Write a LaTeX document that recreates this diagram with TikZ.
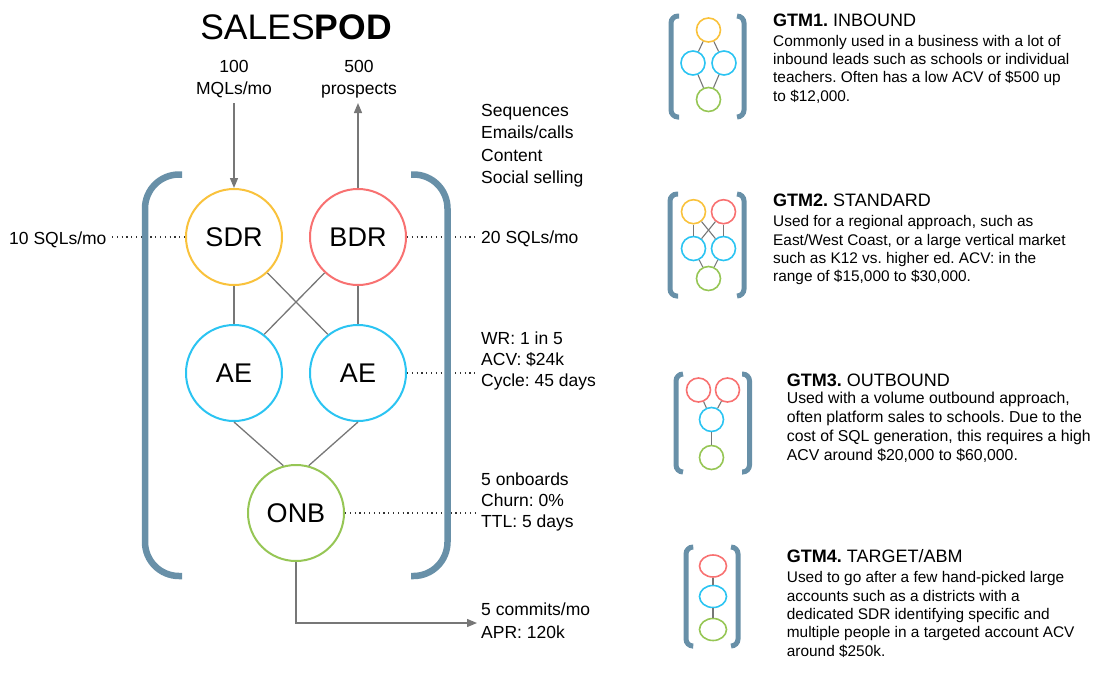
\documentclass[tikz,border=0pt]{standalone}
\usepackage{fontspec}
\setmainfont{Liberation Sans}
\usetikzlibrary{arrows.meta,shapes.geometric}
\definecolor{brk}{HTML}{6890A8}
\definecolor{cy}{HTML}{F9C23C}
\definecolor{cr}{HTML}{F87171}
\definecolor{cb}{HTML}{2BC4F2}
\definecolor{cg}{HTML}{96C655}
\definecolor{ln}{HTML}{777777}
\frenchspacing
\begin{document}
\frenchspacing
\begin{tikzpicture}[x=1pt,y=-1pt,
  big/.style={circle, draw, line width=2pt, minimum size=96pt, inner sep=0pt, fill=white, font=\fontsize{27}{30}\selectfont},
  small/.style={circle, draw, line width=1.6pt, minimum size=24pt, inner sep=0pt},
  oval/.style={ellipse, draw, line width=1.6pt, minimum width=27pt, minimum height=22pt, inner sep=0pt},
  conn/.style={draw=ln, line width=1.3pt},
  sconn/.style={draw=ln, line width=1.1pt},
  arr/.style={-{Triangle[length=10pt,width=8pt]}},
  dots/.style={draw=black!80, line width=1.1pt, dash pattern=on 1.2pt off 3.6pt},
  lbl/.style={font=\fontsize{17.5}{21.7}\selectfont, inner sep=0pt, align=left, anchor=base west},
  head/.style={font=\fontsize{18}{20}\selectfont, inner sep=0pt, anchor=base west},
  body/.style={font=\fontsize{15.4}{18.3}\selectfont, inner sep=0pt, align=left, anchor=base west},
  bbrk/.style={draw=brk, line width=6.5pt, rounded corners=34pt},
  sbrk/.style={draw=brk, line width=5pt, rounded corners=7pt}
]
\useasboundingbox (0,0) rectangle (1096,678);

% ---------- main pod ----------
\node[font=\fontsize{35.5}{40}\selectfont, anchor=base, inner sep=0pt] (title) at (296,39.3) {SALES\textbf{POD}};
\node[lbl, align=center, anchor=base] (mql) at (234,94) {100\\MQLs/mo};
\node[lbl, align=center, anchor=base] (pro) at (359,94) {500\\prospects};

\node[big, draw=cy] (sdr) at (234,237) {SDR};
\node[big, draw=cr] (bdr) at (358,237) {BDR};
\node[big, draw=cb] (ae1) at (234,373) {AE};
\node[big, draw=cb] (ae2) at (358,373) {AE};
\node[big, draw=cg] (onb) at (296,513) {ONB};

\draw[conn] (sdr) -- (ae1);
\draw[conn] (bdr) -- (ae2);
\draw[conn] (sdr.-47) -- (ae2.128);
\draw[conn] (bdr.-133) -- (ae1.52);
\draw[conn] (ae1.south) -- (onb.105);
\draw[conn] (ae2.south) -- (onb.75);

\coordinate (inp) at (234,103);
\coordinate (outp) at (358,103);
\coordinate (c1) at (296,623);
\coordinate (c2) at (477,623);
\draw[conn, arr] (inp) -- (sdr.north);
\draw[conn, arr] (bdr.north) -- (outp);
\draw[conn, arr] (onb.south) -- (c1) -- (c2);

\coordinate (d1) at (112,237);
\coordinate (d2) at (478,237);
\coordinate (d3) at (476,373);
\coordinate (d4) at (476,513);
\draw[dots] (d1) -- (sdr.west);
\draw[dots] (bdr.east) -- (d2);
\draw[dots] (ae2.east) -- (d3);
\draw[dots] (onb.east) -- (d4);

\draw[bbrk] (182,174.5) -- (145,174.5) -- (145,576) -- (182,576);
\draw[bbrk] (411,174.5) -- (447.5,174.5) -- (447.5,576) -- (411,576);

\node[lbl] (l10) at (9,244.3) {10 SQLs/mo};
\node[lbl] (l20) at (481,243.3) {20 SQLs/mo};
\node[lbl, font=\fontsize{17.5}{22.2}\selectfont] (seq) at (481,183.3) {Sequences\\Emails/calls\\Content\\Social selling};
\node[lbl, font=\fontsize{17.5}{20.9}\selectfont] (wr) at (481,386.7) {WR: 1 in 5\\ACV: \$24k\\Cycle: 45 days};
\node[lbl, font=\fontsize{17.5}{21}\selectfont] (onbt) at (481,527) {5 onboards\\Churn: 0\%\\TTL: 5 days};
\node[lbl, font=\fontsize{17.5}{23}\selectfont] (com) at (481,638) {5 commits/mo\\APR: 120k};

% ---------- GTM1 ----------
\draw[sbrk] (679,16) -- (671,16) -- (671,117) -- (679,117);
\draw[sbrk] (737,16) -- (744,16) -- (744,117) -- (737,117);
\node[small, draw=cy] (g1y) at (708.5,30) {};
\node[small, draw=cb] (g1a) at (693,63) {};
\node[small, draw=cb] (g1b) at (724,63) {};
\node[small, draw=cg] (g1g) at (708.5,99.5) {};
\draw[sconn] (g1y) -- (g1a);
\draw[sconn] (g1y) -- (g1b);
\draw[sconn] (g1a) -- (g1g);
\draw[sconn] (g1b) -- (g1g);
\node[head] (h1) at (773,26) {\textbf{GTM1.} INBOUND};
\node[body] (b1) at (773,101) {Commonly used in a business with a lot of\\inbound leads such as schools or individual\\teachers. Often has a low ACV of \$500 up\\to \$12,000.};

% ---------- GTM2 ----------
\draw[sbrk] (678,194) -- (670,194) -- (670,296) -- (678,296);
\draw[sbrk] (737,194) -- (744,194) -- (744,296) -- (737,296);
\node[small, draw=cy] (g2y) at (693.5,211.7) {};
\node[small, draw=cr] (g2r) at (723.5,211.7) {};
\node[small, draw=cb] (g2a) at (693.5,248.5) {};
\node[small, draw=cb] (g2b) at (723.5,248.5) {};
\node[small, draw=cg] (g2g) at (708.5,278.5) {};
\draw[sconn] (g2y) -- (g2a);
\draw[sconn] (g2r) -- (g2b);
\draw[sconn] (g2y) -- (g2b);
\draw[sconn] (g2r) -- (g2a);
\draw[sconn] (g2a) -- (g2g);
\draw[sconn] (g2b) -- (g2g);
\node[head] (h2) at (773,206.7) {\textbf{GTM2.} STANDARD};
\node[body] (b2) at (773,281.7) {Used for a regional approach, such as\\East/West Coast, or a large vertical market\\such as K12 vs. higher ed. ACV: in the\\range of \$15,000 to \$30,000.};

% ---------- GTM3 ----------
\draw[sbrk] (683,374) -- (676,374) -- (676,472) -- (683,472);
\draw[sbrk] (742,374) -- (749.5,374) -- (749.5,472) -- (742,472);
\node[small, draw=cr] (g3r) at (698.5,390) {};
\node[small, draw=cr] (g3s) at (727.5,390) {};
\node[small, draw=cb] (g3b) at (711.5,419.5) {};
\node[small, draw=cg] (g3g) at (711.5,457.5) {};
\draw[sconn] (g3r) -- (g3b);
\draw[sconn] (g3s) -- (g3b);
\draw[sconn] (g3b) -- (g3g);
\node[head] (h3) at (786.7,386) {\textbf{GTM3.} OUTBOUND};
\node[body, font=\fontsize{15.8}{18.9}\selectfont] (b3) at (786.7,460) {Used with a volume outbound approach,\\often platform sales to schools. Due to the\\cost of SQL generation, this requires a high\\ACV around \$20,000 to \$60,000.};

% ---------- GTM4 ----------
\draw[sbrk] (692,547) -- (686,547) -- (686,646) -- (692,646);
\draw[sbrk] (731,547) -- (738,547) -- (738,646) -- (731,646);
\node[oval, draw=cr] (g4r) at (713,566) {};
\node[oval, draw=cb] (g4b) at (713,596.5) {};
\node[oval, draw=cg] (g4g) at (713,629.5) {};
\draw[sconn] (g4r) -- (g4b);
\draw[sconn] (g4b) -- (g4g);
\node[head] (h4) at (786.7,562.7) {\textbf{GTM4.} TARGET/ABM};
\node[body] (b4) at (786.7,656) {Used to go after a few hand-picked large\\accounts such as a districts with a\\dedicated SDR identifying specific and\\multiple people in a targeted account ACV\\around \$250k.};
\end{tikzpicture}
\end{document}
